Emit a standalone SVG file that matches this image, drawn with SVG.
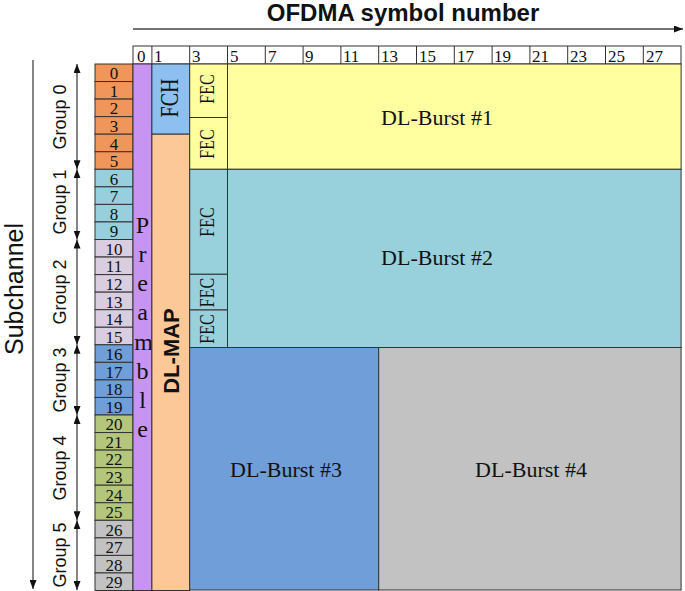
<svg xmlns="http://www.w3.org/2000/svg" width="685" height="591" viewBox="0 0 685 591">
<defs>
<marker id="ah" markerUnits="userSpaceOnUse" markerWidth="9" markerHeight="7" refX="9" refY="3.5" orient="auto-start-reverse"><path d="M0,0 L9,3.5 L0,7 z" fill="#111"/></marker>
<style>
.cell{stroke:#333;stroke-width:1}
.num{font-family:"Liberation Serif",serif;font-size:17px;fill:#111;text-anchor:middle}
.hdr{font-family:"Liberation Serif",serif;font-size:17px;fill:#111}
.ser{font-family:"Liberation Serif",serif;fill:#111;text-anchor:middle}
.grp{font-family:"Liberation Sans",Arial,sans-serif;font-size:18px;fill:#111;text-anchor:middle}
.ax{stroke:#444;stroke-width:1.3;fill:none}
.o{fill:#F0965A}.lb{fill:#98CFDC}.lv{fill:#D9CDE0}.bl{fill:#6F9ED9}.gr{fill:#B3C67C}.gy{fill:#C2C2C2}
</style>
</defs>
<rect width="685" height="591" fill="#fff"/>

<g id="title">
<text x="403" y="21" font-family="Liberation Sans,Arial,sans-serif" font-weight="bold" font-size="24" text-anchor="middle" fill="#111">OFDMA symbol number</text>
</g>
<g id="axis-label">
<text transform="translate(23,289) rotate(-90)" font-family="Liberation Sans,Arial,sans-serif" font-size="25" text-anchor="middle" fill="#111">Subchannel</text>
</g>

<g id="connectors">
<line class="ax" x1="133" y1="29" x2="683" y2="29" marker-end="url(#ah)"/>
<line class="ax" x1="33" y1="60" x2="33" y2="589" marker-end="url(#ah)"/>
<line class="ax" x1="77" y1="64" x2="77" y2="169.3" marker-start="url(#ah)" marker-end="url(#ah)"/>
<line class="ax" x1="77" y1="169.3" x2="77" y2="239.5" marker-start="url(#ah)" marker-end="url(#ah)"/>
<line class="ax" x1="77" y1="239.5" x2="77" y2="344.8" marker-start="url(#ah)" marker-end="url(#ah)"/>
<line class="ax" x1="77" y1="344.8" x2="77" y2="415" marker-start="url(#ah)" marker-end="url(#ah)"/>
<line class="ax" x1="77" y1="415" x2="77" y2="520.3" marker-start="url(#ah)" marker-end="url(#ah)"/>
<line class="ax" x1="77" y1="520.3" x2="77" y2="590" marker-start="url(#ah)" marker-end="url(#ah)"/>
</g>

<g id="groups">
<text class="grp" transform="translate(66,117) rotate(-90)">Group 0</text>
<text class="grp" transform="translate(66,202) rotate(-90)">Group 1</text>
<text class="grp" transform="translate(66,292) rotate(-90)">Group 2</text>
<text class="grp" transform="translate(66,380) rotate(-90)">Group 3</text>
<text class="grp" transform="translate(66,468) rotate(-90)">Group 4</text>
<text class="grp" transform="translate(66,555) rotate(-90)">Group 5</text>
</g>

<g id="header">
<rect x="133" y="46" width="548" height="18" fill="#fff" class="cell"/>
<g class="cell">
<line x1="151.9" y1="46" x2="151.9" y2="64"/><line x1="189.7" y1="46" x2="189.7" y2="64"/><line x1="227.5" y1="46" x2="227.5" y2="64"/><line x1="265.3" y1="46" x2="265.3" y2="64"/><line x1="303.1" y1="46" x2="303.1" y2="64"/><line x1="340.9" y1="46" x2="340.9" y2="64"/><line x1="378.7" y1="46" x2="378.7" y2="64"/><line x1="416.5" y1="46" x2="416.5" y2="64"/><line x1="454.3" y1="46" x2="454.3" y2="64"/><line x1="492.1" y1="46" x2="492.1" y2="64"/><line x1="529.9" y1="46" x2="529.9" y2="64"/><line x1="567.7" y1="46" x2="567.7" y2="64"/><line x1="605.5" y1="46" x2="605.5" y2="64"/><line x1="643.3" y1="46" x2="643.3" y2="64"/>
</g>
<text class="hdr" x="137" y="61.5">0</text>
<text class="hdr" x="154" y="61.5">1</text>
<text class="hdr" x="192" y="61.5">3</text>
<text class="hdr" x="230" y="61.5">5</text>
<text class="hdr" x="268" y="61.5">7</text>
<text class="hdr" x="305" y="61.5">9</text>
<text class="hdr" x="343" y="61.5">11</text>
<text class="hdr" x="381" y="61.5">13</text>
<text class="hdr" x="419" y="61.5">15</text>
<text class="hdr" x="457" y="61.5">17</text>
<text class="hdr" x="494" y="61.5">19</text>
<text class="hdr" x="532" y="61.5">21</text>
<text class="hdr" x="570" y="61.5">23</text>
<text class="hdr" x="608" y="61.5">25</text>
<text class="hdr" x="646" y="61.5">27</text>
</g>

<g id="subchannels">
<rect class="cell o" x="95" y="64" width="38" height="17.55"/>
<rect class="cell o" x="95" y="81.55" width="38" height="17.55"/>
<rect class="cell o" x="95" y="99.1" width="38" height="17.55"/>
<rect class="cell o" x="95" y="116.65" width="38" height="17.55"/>
<rect class="cell o" x="95" y="134.2" width="38" height="17.55"/>
<rect class="cell o" x="95" y="151.75" width="38" height="17.55"/>
<rect class="cell lb" x="95" y="169.3" width="38" height="17.55"/>
<rect class="cell lb" x="95" y="186.85" width="38" height="17.55"/>
<rect class="cell lb" x="95" y="204.4" width="38" height="17.55"/>
<rect class="cell lb" x="95" y="221.95" width="38" height="17.55"/>
<rect class="cell lv" x="95" y="239.5" width="38" height="17.55"/>
<rect class="cell lv" x="95" y="257.05" width="38" height="17.55"/>
<rect class="cell lv" x="95" y="274.6" width="38" height="17.55"/>
<rect class="cell lv" x="95" y="292.15" width="38" height="17.55"/>
<rect class="cell lv" x="95" y="309.7" width="38" height="17.55"/>
<rect class="cell lv" x="95" y="327.25" width="38" height="17.55"/>
<rect class="cell bl" x="95" y="344.8" width="38" height="17.55"/>
<rect class="cell bl" x="95" y="362.35" width="38" height="17.55"/>
<rect class="cell bl" x="95" y="379.9" width="38" height="17.55"/>
<rect class="cell bl" x="95" y="397.45" width="38" height="17.55"/>
<rect class="cell gr" x="95" y="415" width="38" height="17.55"/>
<rect class="cell gr" x="95" y="432.55" width="38" height="17.55"/>
<rect class="cell gr" x="95" y="450.1" width="38" height="17.55"/>
<rect class="cell gr" x="95" y="467.65" width="38" height="17.55"/>
<rect class="cell gr" x="95" y="485.2" width="38" height="17.55"/>
<rect class="cell gr" x="95" y="502.75" width="38" height="17.55"/>
<rect class="cell gy" x="95" y="520.3" width="38" height="17.55"/>
<rect class="cell gy" x="95" y="537.85" width="38" height="17.55"/>
<rect class="cell gy" x="95" y="555.4" width="38" height="17.55"/>
<rect class="cell gy" x="95" y="572.95" width="38" height="17.55"/>
<text class="num" x="114" y="79.3">0</text>
<text class="num" x="114" y="96.8">1</text>
<text class="num" x="114" y="114.4">2</text>
<text class="num" x="114" y="132">3</text>
<text class="num" x="114" y="149.5">4</text>
<text class="num" x="114" y="167.1">5</text>
<text class="num" x="114" y="184.6">6</text>
<text class="num" x="114" y="202.2">7</text>
<text class="num" x="114" y="219.7">8</text>
<text class="num" x="114" y="237.3">9</text>
<text class="num" x="114" y="254.8">10</text>
<text class="num" x="114" y="272.3">11</text>
<text class="num" x="114" y="289.9">12</text>
<text class="num" x="114" y="307.5">13</text>
<text class="num" x="114" y="325">14</text>
<text class="num" x="114" y="342.6">15</text>
<text class="num" x="114" y="360.1">16</text>
<text class="num" x="114" y="377.7">17</text>
<text class="num" x="114" y="395.2">18</text>
<text class="num" x="114" y="412.8">19</text>
<text class="num" x="114" y="430.3">20</text>
<text class="num" x="114" y="447.9">21</text>
<text class="num" x="114" y="465.4">22</text>
<text class="num" x="114" y="483">23</text>
<text class="num" x="114" y="500.5">24</text>
<text class="num" x="114" y="518.1">25</text>
<text class="num" x="114" y="535.6">26</text>
<text class="num" x="114" y="553.2">27</text>
<text class="num" x="114" y="570.7">28</text>
<text class="num" x="114" y="588.3">29</text>
</g>

<g id="preamble">
<rect class="cell" x="133" y="64" width="18.9" height="526.5" fill="#C894F2"/>
<g class="ser" font-size="24" fill="#2a1040">
<text x="142.5" y="233">P</text>
<text x="142.5" y="262">r</text>
<text x="142.5" y="291">e</text>
<text x="142.5" y="320">a</text>
<text x="143.5" y="349.5">m</text>
<text x="142.5" y="378.5">b</text>
<text x="142.5" y="407.5">l</text>
<text x="142.5" y="436.5">e</text>
</g>
</g>

<g id="fch">
<rect class="cell" x="151.9" y="64" width="37.8" height="70.2" fill="#8DC0F0"/>
<text class="ser" font-size="20" transform="translate(178,98) rotate(-90) scale(1,1.3)">FCH</text>
</g>

<g id="dlmap">
<rect class="cell" x="151.9" y="134.2" width="37.8" height="456.3" fill="#FDC898"/>
<text transform="translate(179,351) rotate(-90)" font-family="Liberation Sans,Arial,sans-serif" font-weight="bold" font-size="22" text-anchor="middle" fill="#111">DL-MAP</text>
</g>

<g id="burst1">
<rect class="cell" x="227.5" y="64" width="453.6" height="105.3" fill="#FFFFA0"/>
<text class="ser" font-size="22" x="437" y="125">DL-Burst #1</text>
</g>
<g id="fec1">
<rect class="cell" x="189.7" y="64" width="37.8" height="53.5" fill="#FFFFA0"/>
<text class="ser" font-size="16" transform="translate(214,89) rotate(-90) scale(1,1.3)">FEC</text>
</g>
<g id="fec2">
<rect class="cell" x="189.7" y="117.5" width="37.8" height="51.8" fill="#FFFFA0"/>
<text class="ser" font-size="16" transform="translate(214,144) rotate(-90) scale(1,1.3)">FEC</text>
</g>

<g id="burst2">
<rect class="cell" x="227.5" y="169.3" width="453.6" height="178.2" fill="#98D0DC"/>
<text class="ser" font-size="22" x="437" y="265">DL-Burst #2</text>
</g>
<g id="fec3">
<rect class="cell" x="189.7" y="169.3" width="37.8" height="105" fill="#98D0DC"/>
<text class="ser" font-size="16" transform="translate(214,222) rotate(-90) scale(1,1.3)">FEC</text>
</g>
<g id="fec4">
<rect class="cell" x="189.7" y="274.3" width="37.8" height="35.7" fill="#98D0DC"/>
<text class="ser" font-size="16" transform="translate(214,292.5) rotate(-90) scale(1,1.3)">FEC</text>
</g>
<g id="fec5">
<rect class="cell" x="189.7" y="310" width="37.8" height="37.5" fill="#98D0DC"/>
<text class="ser" font-size="16" transform="translate(214,329) rotate(-90) scale(1,1.3)">FEC</text>
</g>

<g id="burst3">
<rect class="cell" x="189.7" y="347.5" width="189" height="242.5" fill="#6F9ED9"/>
<text class="ser" font-size="22" x="286" y="477">DL-Burst #3</text>
</g>
<g id="burst4">
<rect class="cell" x="378.7" y="347.5" width="302.4" height="242.5" fill="#C2C2C2"/>
<text class="ser" font-size="22" x="531" y="477">DL-Burst #4</text>
</g>
</svg>
